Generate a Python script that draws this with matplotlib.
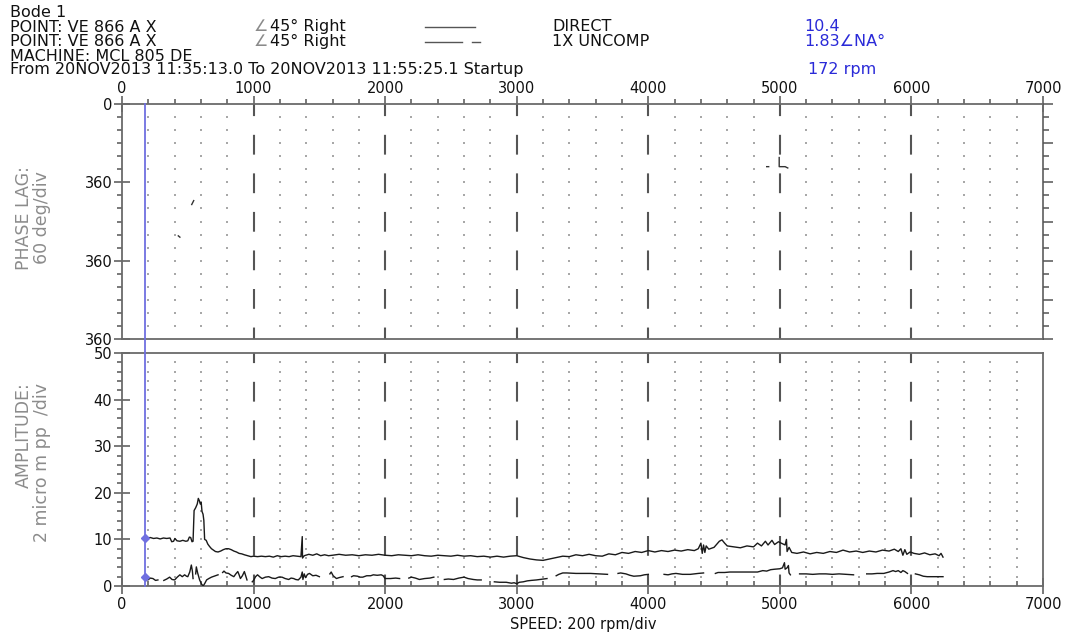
import numpy as np
import matplotlib
matplotlib.use("Agg")
import matplotlib.pyplot as plt
from matplotlib.lines import Line2D
from matplotlib.ticker import MultipleLocator, FixedLocator, FixedFormatter

# ---------------------------------------------------------------- data
speed_ticks = [0, 1000, 2000, 3000, 4000, 5000, 6000, 7000]
phase_ticks = [0, 60, 120, 180]
phase_tick_labels = ["0", "360", "360", "360"]
amp_ticks = [0, 10, 20, 30, 40, 50]

cursor_rpm = 172
cursor_direct = 10.4
cursor_1x = 1.83

# DIRECT amplitude (micro m pp) against speed (rpm)
direct_rpm = [
    172, 190, 215, 240, 265, 290, 315, 340, 365, 378, 392, 402, 418, 440, 462,
    485, 500, 512, 522, 532, 540, 548, 560, 572, 580, 588, 595, 602, 608, 616,
    622, 628, 640, 652, 665, 680, 695, 710, 730, 750, 770, 790, 810, 830, 850,
    870, 890, 910, 930, 955, 980, 1000, 1030, 1060, 1090, 1120, 1150, 1180,
    1210, 1240, 1270, 1300, 1330, 1360, 1370, 1372, 1385, 1420, 1450, 1480,
    1510, 1540, 1570, 1600, 1650, 1700, 1750, 1800, 1850, 1900, 1950, 2000,
    2050, 2100, 2150, 2200, 2250, 2300, 2350, 2400, 2450, 2500, 2550, 2600,
    2650, 2700, 2750, 2800, 2850, 2900, 2950, 3000, 3050, 3100, 3150, 3200,
    3250, 3300, 3350, 3400, 3450, 3500, 3550, 3600, 3650, 3700, 3750, 3800,
    3850, 3900, 3950, 4000, 4050, 4100, 4150, 4200, 4250, 4300, 4350, 4380,
    4400, 4410, 4420, 4430, 4440, 4460, 4500, 4540, 4560, 4580, 4600, 4650,
    4700, 4750, 4800, 4830, 4860, 4890, 4910, 4940, 4960, 4990, 5010, 5040,
    5050, 5055, 5070, 5090, 5130, 5180, 5230, 5280, 5330, 5380, 5430, 5480,
    5530, 5580, 5630, 5680, 5730, 5780, 5830, 5870, 5900, 5920, 5935, 5950,
    5965, 5990, 6020, 6060, 6100, 6140, 6180, 6210, 6225, 6240,
]
direct_amp = [
    10.4, 10.3, 10.4, 10.2, 10.3, 10.1, 10.3, 10.2, 10.3, 9.5, 9.6, 10.2, 9.7,
    9.6, 9.8, 9.6, 9.7, 10.5, 10.4, 9.5, 9.6, 16.2, 16.8, 17.6, 18.8, 18.3,
    17.6, 17.9, 16.0, 15.4, 14.1, 10.0, 9.8, 9.0, 8.5, 8.0, 7.7, 7.4, 7.3, 7.5,
    7.8, 8.0, 8.0, 7.8, 7.5, 7.3, 7.0, 6.9, 6.7, 6.5, 6.3, 6.4, 6.3, 6.4, 6.3,
    6.4, 6.2, 6.5, 6.3, 6.4, 6.3, 6.5, 6.4, 6.3, 10.6, 6.0, 6.5, 6.8, 6.6, 6.9,
    6.5, 6.7, 6.5, 6.6, 6.8, 6.6, 6.7, 6.5, 6.7, 6.6, 6.8, 6.6, 6.5, 6.7, 6.6,
    6.5, 6.7, 6.5, 6.4, 6.6, 6.5, 6.4, 6.6, 6.4, 6.5, 6.3, 6.4, 6.2, 6.4, 6.2,
    6.4, 6.5, 6.1, 5.8, 5.6, 5.5, 5.8, 6.1, 6.4, 6.3, 6.7, 6.5, 6.8, 6.5, 6.4,
    6.9, 6.7, 7.2, 7.0, 7.4, 7.2, 7.6, 7.3, 7.6, 7.4, 7.7, 7.5, 7.8, 7.6, 8.0,
    9.2, 7.0, 8.8, 7.2, 8.6, 7.9, 8.3, 9.6, 9.9, 9.2, 8.6, 8.4, 8.2, 8.6, 8.4,
    9.2, 8.6, 9.6, 8.8, 9.8, 8.9, 9.5, 9.2, 8.8, 10.0, 7.4, 8.3, 7.2, 7.0, 7.3,
    6.9, 7.2, 7.0, 7.4, 7.2, 7.7, 7.3, 7.5, 7.2, 7.5, 7.3, 7.7, 7.5, 7.9, 7.4,
    8.0, 6.6, 7.8, 6.8, 7.3, 7.0, 6.8, 7.1, 6.7, 6.9, 6.5, 7.0, 6.2,
]

# 1X uncompensated amplitude; NaN marks breaks in the trace
nan = np.nan
uncomp_rpm = [
    172, 185, 197, 215, 235, 255, 273, nan, 318, 340, 362, 380, 400, 420, 440,
    458, 476, 490, 500, 515, 527, 535, 540, nan, 560, 565, 575, 590, 605, 617,
    630, 643, 660, 680, 700, 730, nan, 765, 775, 790, 810, 830, 850, 865, 880,
    890, 900, 915, 930, 940, 950, nan, 990, 1000, 1015, 1030, 1050, 1065, 1090,
    1115, 1140, 1165, 1190, 1216, 1240, 1267, 1285, 1305, 1320, 1340, 1360,
    1370, 1375, 1385, 1395, 1410, 1425, 1450, 1475, 1500, nan, 1580, 1590,
    1605, 1630, 1650, 1680, nan, 1745, 1760, 1790, 1810, 1830, 1860, 1890,
    1910, 1940, 1970, 1985, 2000, 2040, 2080, 2110, nan, 2180, 2200, 2230,
    2260, 2300, 2340, 2370, nan, 2450, 2480, 2520, 2560, 2600, 2630, 2670,
    2700, 2730, nan, 2830, 2870, 2920, 2960, 2980, 3000, 3020, 3050, 3080,
    3110, 3150, 3200, 3230, nan, 3300, 3320, 3350, 3380, 3450, 3500, 3560,
    3620, 3690, nan, 3770, 3790, 3830, 3860, 3890, 3940, 3970, 4000, nan,
    4120, 4150, 4180, 4210, 4260, 4320, 4380, 4420, nan, 4510, 4530, 4580,
    4620, 4700, 4760, 4830, 4870, 4900, 4930, 4960, 5000, 5020, 5035, 5040,
    5055, 5065, 5070, 5080, nan, 5150, 5200, 5250, 5300, 5350, 5400, 5450,
    5500, 5560, nan, 5660, 5700, 5740, 5790, 5830, 5860, 5880, 5900, 5920,
    5935, 5950, 5970, nan, 6030, 6060, 6090, 6120, 6180, 6240,
]
uncomp_amp = [
    1.83, 1.5, 1.3, 1.7, 1.6, 1.2, 1.3, nan, 1.2, 1.5, 1.9, 1.4, 1.3, 1.9, 2.4,
    2.0, 2.4, 2.1, 2.0, 3.0, 4.5, 3.2, 1.6, nan, 2.6, 4.1, 2.8, 1.3, 0.4, 0.0,
    0.6, 1.3, 1.6, 1.9, 2.1, 2.4, nan, 2.9, 3.2, 2.8, 2.7, 2.3, 2.0, 2.6, 3.1,
    2.4, 1.6, 2.2, 3.1, 2.2, 1.3, nan, 0.9, 1.2, 2.0, 2.4, 1.9, 1.6, 1.9, 2.0,
    1.7, 1.6, 1.9, 1.9, 1.6, 1.4, 1.7, 1.6, 1.4, 1.3, 1.9, 3.0, 1.4, 2.6, 1.8,
    2.5, 2.7, 2.2, 2.3, 2.0, nan, 2.6, 3.0, 2.2, 1.6, 1.8, 2.0, nan, 2.0, 2.2,
    2.1, 1.9, 1.9, 2.2, 2.2, 2.4, 2.3, 2.4, 2.2, 1.6, 1.6, 1.7, 1.6, nan, 1.7,
    1.9, 1.7, 1.4, 1.6, 1.7, 1.9, nan, 1.4, 1.5, 1.4, 1.7, 1.9, 1.6, 1.4, 1.3,
    1.3, nan, 0.9, 0.8, 0.8, 0.6, 0.7, 0.5, 0.8, 0.9, 1.1, 1.2, 1.3, 1.5, 1.6,
    nan, 2.2, 2.5, 2.8, 2.8, 2.7, 2.7, 2.7, 2.6, 2.5, nan, 2.7, 2.8, 2.6, 2.3,
    2.1, 2.2, 2.4, 2.5, nan, 2.5, 2.4, 2.6, 2.7, 2.5, 2.5, 2.7, 2.8, nan, 2.7,
    2.9, 2.9, 3.0, 3.0, 3.0, 3.0, 3.3, 3.2, 3.5, 3.6, 3.7, 3.9, 5.0, 3.6, 3.9,
    4.4, 2.8, 2.4, nan, 2.6, 2.6, 2.5, 2.6, 2.6, 2.5, 2.6, 2.5, 2.4, nan, 2.6,
    2.6, 2.7, 2.7, 3.0, 3.3, 3.1, 3.3, 2.9, 3.3, 3.1, 2.7, nan, 2.6, 2.4, 2.1,
    2.0, 2.0, 2.0,
]

# sparse phase-lag samples (deg)
phase_rpm = [428, 440, nan, 530, 545, nan, 4900, 4915, nan, 4995, 4995, 5040, 5060]
phase_deg = [101, 102, nan, 77, 74, nan, 48, 48, nan, 41, 48, 48, 49]

# ---------------------------------------------------------------- layout
W, H = 1073, 633
fig = plt.figure(figsize=(W / 100, H / 100), dpi=100)
fig.patch.set_facecolor("white")


def fx(px):
    return px / W


def fy(py):
    return 1 - py / H


LEFT, RIGHT = 122, 1043
ax_ph = fig.add_axes([fx(LEFT), fy(339), fx(RIGHT) - fx(LEFT), fy(104) - fy(339)])
ax_am = fig.add_axes([fx(LEFT), fy(586), fx(RIGHT) - fx(LEFT), fy(353) - fy(586)])

FONT = "DejaVu Sans"
SPINE = "#6a6a6a"
TICKC = "#555555"
GRIDDOT = "#a8a8a8"
DASHC = "#555555"
BLUE = "#2a2ad8"
CURSOR = "#7070e0"
TICKFS = 10.5

for ax in (ax_ph, ax_am):
    ax.set_xlim(0, 7000)
    for s in ax.spines.values():
        s.set_color(SPINE)
        s.set_linewidth(1.3)
    ax.xaxis.set_major_locator(FixedLocator(speed_ticks))
    ax.xaxis.set_minor_locator(MultipleLocator(200))
    ax.tick_params(which="both", colors=TICKC, labelcolor="#111111",
                   labelsize=TICKFS, width=1.1)

# ---- phase panel
ax_ph.set_ylim(180, 0)
ax_ph.yaxis.set_major_locator(FixedLocator(phase_ticks))
ax_ph.yaxis.set_major_formatter(FixedFormatter(phase_tick_labels))
ax_ph.yaxis.set_minor_locator(MultipleLocator(10))
ax_ph.xaxis.tick_top()
ax_ph.tick_params(axis="x", which="major", direction="inout", length=12, pad=0,
                  top=True, bottom=False, labeltop=True, labelbottom=False)
ax_ph.tick_params(axis="x", which="minor", direction="out", length=3.5,
                  top=True, bottom=False)
ax_ph.tick_params(axis="y", which="major", direction="inout", length=12, pad=1)
ax_ph.tick_params(axis="y", which="minor", direction="out", length=3.5)

# right-hand phase scale ticks
ax_r = ax_ph.twinx()
ax_r.set_ylim(180, 0)
ax_r.yaxis.set_major_locator(MultipleLocator(30))
ax_r.yaxis.set_minor_locator(MultipleLocator(10))
ax_r.tick_params(axis="y", which="major", direction="out", length=7,
                 colors=TICKC, width=1.1, labelright=False)
ax_r.tick_params(axis="y", which="minor", direction="out", length=4,
                 colors=TICKC, width=1.1)
for s in ax_r.spines.values():
    s.set_visible(False)

# ---- amplitude panel
ax_am.set_ylim(0, 50)
ax_am.yaxis.set_major_locator(FixedLocator(amp_ticks))
ax_am.yaxis.set_minor_locator(MultipleLocator(2))
ax_am.tick_params(axis="x", which="major", direction="inout", length=12, pad=2)
ax_am.tick_params(axis="x", which="minor", direction="in", length=3.5)
ax_am.tick_params(axis="y", which="major", direction="inout", length=12, pad=1)
ax_am.tick_params(axis="y", which="minor", direction="out", length=3.5)

# ---- grids: dotted minor lattice + dashed 1000 rpm lines
minor_x = [v for v in range(200, 7000, 200) if v % 1000]
major_x = list(range(1000, 7000, 1000))
for ax, ys in ((ax_ph, np.arange(10, 180, 10)), (ax_am, np.arange(2, 50, 2))):
    gx, gy = np.meshgrid(minor_x, ys)
    ax.plot(gx.ravel(), gy.ravel(), ls="none", marker="s", ms=1.5, mew=0,
            color=GRIDDOT, zorder=1)
    ax.vlines(major_x, *ax.get_ylim(), colors=DASHC, linewidth=1.5,
              linestyles=[(4, (9.5, 9.0))], zorder=1)

# ---- traces
ax_am.plot(direct_rpm, direct_amp, color="#1a1a1a", lw=1.0, zorder=3)
ax_am.plot(uncomp_rpm, uncomp_amp, color="#1a1a1a", lw=1.0, zorder=3)
ax_ph.plot(phase_rpm, phase_deg, color="#333333", lw=1.0, zorder=3)

# ---- cursor at 172 rpm, running through both panels
top_in_am = (fy(104) - fy(586)) / (fy(353) - fy(586))
ax_am.axvline(cursor_rpm, ymin=0, ymax=top_in_am, color=CURSOR, lw=1.3,
              clip_on=False, zorder=4)
ax_am.plot([cursor_rpm, cursor_rpm], [cursor_direct, cursor_1x], ls="none",
           marker="D", ms=4, color=CURSOR, zorder=5)

# ---------------------------------------------------------------- text
HDR = 11.5
LS = 0.96


def block(px, py_top, s, color="#111111", size=HDR, ls=LS, **kw):
    fig.text(fx(px), fy(py_top), s, ha="left", va="top", fontsize=size,
             color=color, family=FONT, linespacing=ls, **kw)


block(10, 5, "Bode 1\nPOINT: VE 866 A X\nPOINT: VE 866 A X\n"
      "MACHINE: MCL 805 DE")
block(10, 62, "From 20NOV2013 11:35:13.0 To 20NOV2013 11:55:25.1 Startup")
block(254, 19, "\u2220\n\u2220", color="#8a8a8a")
block(270, 19, "45\u00b0 Right\n45\u00b0 Right")
block(552, 19, "DIRECT\n1X UNCOMP")
block(804, 19, "10.4\n1.83\u2220NA\u00b0", color=BLUE)
block(808, 62, "172 rpm", color=BLUE)

# line-style keys
fig.add_artist(Line2D([fx(425), fx(475)], [fy(27), fy(27)], color="#555555", lw=1.0))
fig.add_artist(Line2D([fx(425), fx(462)], [fy(42), fy(42)], color="#555555", lw=1.0))
fig.add_artist(Line2D([fx(472), fx(480)], [fy(42), fy(42)], color="#555555", lw=1.0))

# axis titles
GRAY = "#8c8c8c"
fig.text(fx(33), fy(218), "PHASE LAG:\n60 deg/div", rotation=90, ha="center",
         va="center", multialignment="center", fontsize=12.5, color=GRAY,
         family=FONT, linespacing=1.05)
fig.text(fx(33), fy(462), "AMPLITUDE:\n2 micro m pp  /div", rotation=90,
         ha="center", va="center", multialignment="right", fontsize=12.5,
         color=GRAY, family=FONT, linespacing=1.05)

fig.text(fx(583), fy(624), "SPEED: 200 rpm/div", ha="center", va="center",
         fontsize=10.5, color="#111111", family=FONT)

fig.savefig("out.png", dpi=100, facecolor="white")
